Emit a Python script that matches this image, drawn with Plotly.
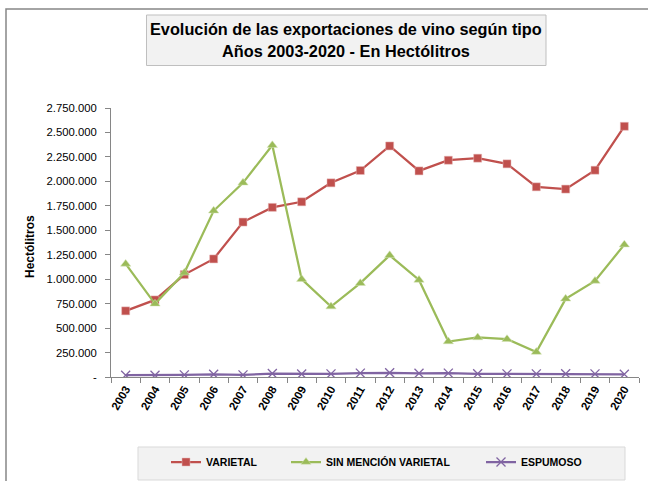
import plotly.graph_objects as go

years = [str(y) for y in range(2003, 2021)]
varietal = [676000, 788000, 1047000, 1207000, 1584000, 1734000, 1791000, 1985000, 2111000,
            2362000, 2107000, 2216000, 2237000, 2179000, 1944000, 1921000, 2114000, 2563000]
sin_mencion = [1156000, 748000, 1065000, 1699000, 1985000, 2369000, 1000000, 720000, 959000,
               1244000, 992000, 363000, 404000, 387000, 255000, 799000, 982000, 1353000]
espumoso = [18000, 18000, 22000, 28000, 22000, 35000, 30000, 32000, 40000,
            43000, 38000, 40000, 33000, 32000, 32000, 33000, 32000, 28000]
y_tickvals = [0, 250000, 500000, 750000, 1000000, 1250000, 1500000, 1750000,
              2000000, 2250000, 2500000, 2750000]
y_ticktext = ["-", "250.000", "500.000", "750.000", "1.000.000", "1.250.000", "1.500.000",
              "1.750.000", "2.000.000", "2.250.000", "2.500.000", "2.750.000"]

W, H = 648, 481
L, R, T, B = 111, 9, 108, 104
PW, PH = W - L - R, H - T - B


def px(x):
    return (x - L) / PW


def py(y):
    return (H - B - y) / PH


FONT = "Liberation Sans"
RED, GREEN, PURPLE = "#c0504d", "#9bbb59", "#8064a2"

fig = go.Figure()
fig.add_trace(go.Scatter(x=years, y=varietal, name="VARIETAL", mode="lines+markers",
                         line=dict(color=RED, width=2.25),
                         marker=dict(symbol="square", size=8, color=RED,
                                     line=dict(color="#e6b9b8", width=0.5)),
                         legend="legend"))
fig.add_trace(go.Scatter(x=years, y=sin_mencion, name="SIN MENCIÓN VARIETAL", mode="lines+markers",
                         line=dict(color=GREEN, width=2.25),
                         marker=dict(symbol="triangle-up", size=9, color=GREEN,
                                     line=dict(color="#d7e4bd", width=0.5)),
                         legend="legend2"))
fig.add_trace(go.Scatter(x=years, y=espumoso, name="ESPUMOSO", mode="lines+markers",
                         line=dict(color=PURPLE, width=2.25),
                         marker=dict(symbol="x-thin-open", size=9,
                                     line=dict(color="#9f8bc0", width=1.3)),
                         legend="legend3"))

shapes = [
    dict(type="rect", xref="paper", yref="paper", x0=px(6), x1=px(700), y0=py(9), y1=py(530),
         line=dict(color="#868686", width=1.5), fillcolor="rgba(0,0,0,0)", layer="below"),
    dict(type="rect", xref="paper", yref="paper", x0=px(146.5), x1=px(546), y0=py(15), y1=py(65.5),
         line=dict(color="#bfbfbf", width=1), fillcolor="#f2f2f2", layer="below"),
    dict(type="rect", xref="paper", yref="paper", x0=px(138), x1=px(625), y0=py(447), y1=py(480),
         line=dict(color="#d9d9d9", width=1), fillcolor="#f2f2f2", layer="below"),
]

annotations = [
    dict(text="<b>Evolución de las exportaciones de vino según tipo</b>", xref="paper", yref="paper",
         x=px(346), y=py(29), xanchor="center", yanchor="middle", showarrow=False,
         font=dict(family=FONT, size=16.3, color="#000000")),
    dict(text="<b>Años 2003-2020 - En Hectólitros</b>", xref="paper", yref="paper",
         x=px(346), y=py(51), xanchor="center", yanchor="middle", showarrow=False,
         font=dict(family=FONT, size=16.3, color="#000000")),
    dict(text="<b>Hectólitros</b>", xref="paper", yref="paper", x=px(30), y=py(247),
         xanchor="center", yanchor="middle", showarrow=False, textangle=-90,
         font=dict(family=FONT, size=12, color="#000000")),
]

leg_common = dict(orientation="h", bgcolor="rgba(0,0,0,0)", borderwidth=0, yanchor="middle",
                  xanchor="left", font=dict(family=FONT, size=10.5, color="#000000"),
                  itemwidth=30, y=py(462))

fig.update_layout(
    width=W, height=H,
    margin=dict(l=L, r=R, t=T, b=B, pad=0, autoexpand=False),
    paper_bgcolor="white", plot_bgcolor="white",
    showlegend=True,
    legend=dict(leg_common, x=px(166)),
    legend2=dict(leg_common, x=px(286)),
    legend3=dict(leg_common, x=px(481)),
    shapes=shapes, annotations=annotations,
    xaxis=dict(type="category", showgrid=False, showline=True, linecolor="#868686", linewidth=1,
               ticks="outside", tickson="boundaries", ticklen=5, tickcolor="#868686",
               tickangle=-60, automargin=False,
               tickfont=dict(family=FONT, size=11.5, color="#000000"),
               range=[-0.5, 17.5], zeroline=False),
    yaxis=dict(range=[0, 2750000], tickvals=y_tickvals, ticktext=y_ticktext,
               showgrid=False, showline=True, linecolor="#868686", linewidth=1,
               ticks="outside", ticklen=5, tickcolor="#868686", zeroline=False,
               ticklabelstandoff=6, automargin=False,
               tickfont=dict(family=FONT, size=11.3, color="#000000")),
)
fig.update_xaxes(tickprefix="<b>", ticksuffix="</b>")
fig.update_yaxes(tickprefix="<b>", ticksuffix="</b>")
for tr in fig.data:
    tr.name = "<b>" + tr.name + "</b>"

fig.write_html("out.html", config={"displayModeBar": False},
               post_script="document.body.style.margin='0';")
